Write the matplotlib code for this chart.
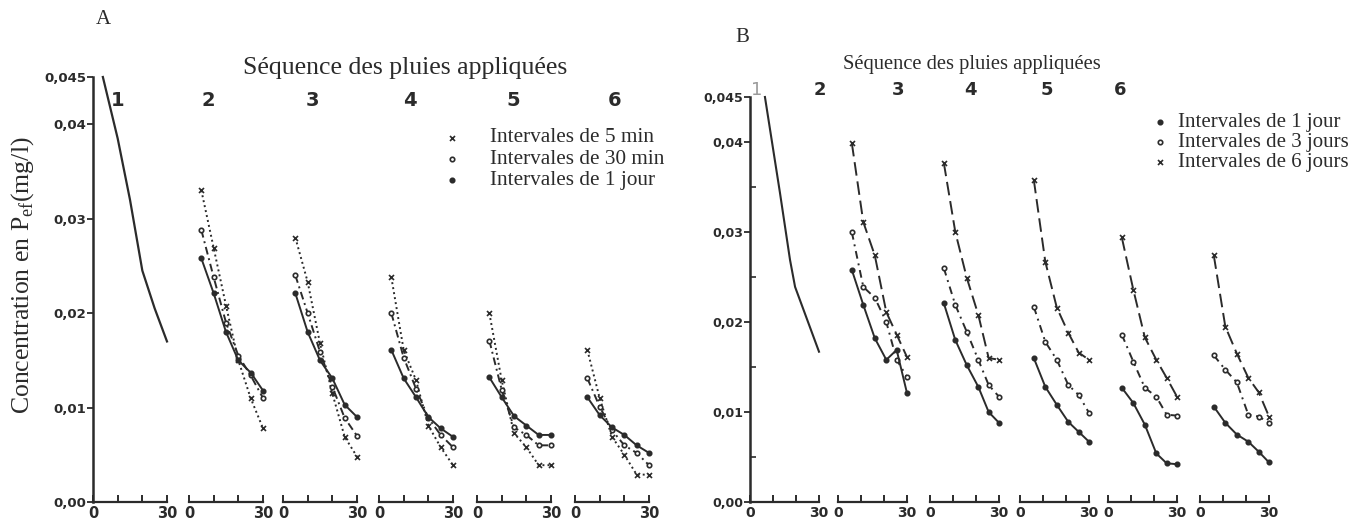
import matplotlib
matplotlib.use("Agg")
import matplotlib.pyplot as plt

# --- data ---------------------------------------------------------------
# Panel A : rain sequence 1 (single curve) and sequences 2-6 (three series)
a_seq1_x = [4, 10, 15, 20, 25, 30]
a_seq1_y = [0.045, 0.0385, 0.032, 0.0245, 0.0205, 0.017]

a_x = [5, 10, 15, 20, 25, 30]
a_5min = [
    [0.033, 0.0269, 0.0208, 0.015, 0.011, 0.0078],
    [0.028, 0.0233, 0.0168, 0.0115, 0.0069, 0.0048],
    [0.0238, 0.0161, 0.0129, 0.0081, 0.0058, 0.0039],
    [0.020, 0.0129, 0.0073, 0.0058, 0.0039, 0.0039],
    [0.0161, 0.011, 0.0069, 0.005, 0.0029, 0.0029],
]
a_30min = [
    [0.0288, 0.0238, 0.019, 0.0155, 0.0134, 0.011],
    [0.024, 0.020, 0.0159, 0.0122, 0.0089, 0.007],
    [0.020, 0.0153, 0.012, 0.0089, 0.0071, 0.0058],
    [0.0171, 0.0119, 0.0079, 0.0071, 0.006, 0.006],
    [0.0131, 0.0101, 0.0076, 0.006, 0.0052, 0.0039],
]
a_1jour = [
    [0.0258, 0.0221, 0.018, 0.015, 0.0137, 0.0118],
    [0.0221, 0.018, 0.015, 0.0131, 0.0103, 0.009],
    [0.0161, 0.0131, 0.0111, 0.009, 0.0078, 0.0069],
    [0.0132, 0.0111, 0.0091, 0.0081, 0.0071, 0.0071],
    [0.0111, 0.0092, 0.0079, 0.0071, 0.006, 0.0052],
]

# Panel B
b_seq1_x = [6.5, 13, 17.4, 19.6, 30]
b_seq1_y = [0.045, 0.0344, 0.0269, 0.0239, 0.0167]

b_x = [6, 11, 16, 21, 25.5, 30]
b_6jours = [
    [0.0399, 0.0311, 0.0274, 0.0211, 0.0186, 0.0161],
    [0.0377, 0.030, 0.0249, 0.0208, 0.016, 0.0158],
    [0.0358, 0.0267, 0.0216, 0.0188, 0.0166, 0.0158],
    [0.0294, 0.0236, 0.0183, 0.0158, 0.0138, 0.0117],
    [0.0274, 0.0195, 0.0165, 0.0138, 0.0122, 0.0095],
]
b_3jours = [
    [0.030, 0.0239, 0.0227, 0.020, 0.0158, 0.0139],
    [0.026, 0.0219, 0.0189, 0.0158, 0.013, 0.0117],
    [0.0217, 0.0178, 0.0158, 0.013, 0.0119, 0.0099],
    [0.0186, 0.0156, 0.0127, 0.0117, 0.0097, 0.0096],
    [0.0163, 0.0147, 0.0133, 0.0097, 0.0095, 0.0088],
]
b_1jour = [
    [0.0258, 0.0219, 0.0182, 0.0158, 0.0169, 0.0121],
    [0.0221, 0.018, 0.0152, 0.0128, 0.010, 0.0088],
    [0.016, 0.0128, 0.0108, 0.0089, 0.0078, 0.0067],
    [0.0127, 0.011, 0.0086, 0.0054, 0.0043, 0.0042],
    [0.0106, 0.0088, 0.0075, 0.0067, 0.0056, 0.0044],
]

seq_labels = ["1", "2", "3", "4", "5", "6"]
y_ticks = [0.0, 0.01, 0.02, 0.03, 0.04, 0.045]
y_ticklabels = ["0,00", "0,01", "0,02", "0,03", "0,04", "0,045"]
title = "Séquence des pluies appliquées"
a_legend = ["Intervales de 5 min", "Intervales de 30 min", "Intervales de 1 jour"]
b_legend = ["Intervales de 1 jour", "Intervales de 3 jours", "Intervales de 6 jours"]

# --- figure --------------------------------------------------------------
W, H = 1358, 526
INK = "#2b2b2b"
SERIF = "Liberation Serif"
fig = plt.figure(figsize=(W / 100, H / 100), dpi=100)


def px_axes(left, width, y0, y45):
    # y0 / y45: pixel rows of 0.00 and 0.045
    return fig.add_axes([left / W, 1 - y0 / H, width / W, (y0 - y45) / H])


def style_sub(ax, first, lab_size, minor=False):
    ax.set_xlim(0, 30)
    ax.set_ylim(0, 0.045)
    ax.patch.set_alpha(0)
    for s in ["top", "right"]:
        ax.spines[s].set_visible(False)
    ax.spines["bottom"].set_color(INK)
    ax.spines["bottom"].set_linewidth(1.6)
    ax.set_xticks([0, 10, 20, 30])
    ax.set_xticklabels(["0", "", "", "30"])
    ax.tick_params(axis="x", direction="in", length=5, width=1.4, color=INK,
                   labelsize=lab_size, pad=3, labelcolor=INK)
    for t in ax.get_xticklabels():
        t.set_fontweight("bold")
    if first:
        ax.spines["left"].set_color(INK)
        ax.spines["left"].set_linewidth(1.8)
        ax.set_yticks(y_ticks)
        ax.set_yticklabels(y_ticklabels)
        ax.tick_params(axis="y", direction="out", length=4, width=1.3, color=INK,
                       labelsize=lab_size - 1, pad=1, labelcolor=INK)
        for t in ax.get_yticklabels():
            t.set_fontweight("bold")
        if minor:
            ax.set_yticks([0.005, 0.015, 0.025, 0.035], minor=True)
            ax.tick_params(axis="y", which="minor", direction="in", length=4,
                           width=1.2, color=INK)
    else:
        ax.spines["left"].set_visible(False)
        ax.set_yticks([])


def draw_series(ax, x, y, ls, marker, mfc, ms):
    ax.plot(x, y, color=INK, lw=1.4, ls=ls, marker=marker, ms=ms,
            mfc=mfc, mec=INK, mew=1.2, clip_on=False)


# Panel A
a_lefts = [93, 189, 283, 379, 477, 575]
a_width = 74
for i, left in enumerate(a_lefts):
    ax = px_axes(left, a_width, 502, 77)
    style_sub(ax, i == 0, 10.5)
    if i == 0:
        ax.plot(a_seq1_x, a_seq1_y, color=INK, lw=1.6, clip_on=False)
    else:
        draw_series(ax, a_x, a_5min[i - 1], (0, (1, 1.6)), "x", INK, 3.6)
        draw_series(ax, a_x, a_30min[i - 1], (0, (4, 2, 1, 2)), "o", "white", 3.2)
        draw_series(ax, a_x, a_1jour[i - 1], "-", "o", INK, 3.2)

a_num_x = [118, 208, 312, 410, 513, 615]
for xp, lab in zip(a_num_x, seq_labels):
    fig.text(xp / W, 1 - 100 / H, lab, ha="center", va="center",
             fontsize=14, fontweight="bold", color=INK, family="DejaVu Sans")

fig.text(103 / W, 1 - 20 / H, "A", ha="center", va="center", fontsize=15,
         family=SERIF, color=INK)
fig.text(405 / W, 1 - 68 / H, title, ha="center", va="center", fontsize=18.5,
         family=SERIF, color=INK)
fig.text(23 / W, 1 - 275 / H, "Concentration en P$_{\\mathregular{ef}}$(mg/l)",
         rotation=90, ha="center", va="center", fontsize=18.5, family=SERIF,
         color=INK)

a_leg_y = [138, 159, 180]
a_leg_marker = [("x", INK, 3.6), ("o", "white", 3.2), ("o", INK, 3.2)]
for yy, txt, (m, fc, ms) in zip(a_leg_y, a_legend, a_leg_marker):
    fig.lines.append(plt.Line2D([452 / W], [1 - yy / H], transform=fig.transFigure,
                                marker=m, ms=ms, mfc=fc, mec=INK, mew=1.2, ls=""))
    fig.text(490 / W, 1 - yy / H, txt, ha="left", va="center", fontsize=15.3,
             family=SERIF, color=INK)

# Panel B
b_lefts = [750, 838, 930, 1020, 1108, 1200]
b_width = 69
for i, left in enumerate(b_lefts):
    ax = px_axes(left, b_width, 502, 97)
    style_sub(ax, i == 0, 10, minor=True)
    if i == 0:
        ax.plot(b_seq1_x, b_seq1_y, color=INK, lw=1.5, clip_on=False)
    else:
        draw_series(ax, b_x, b_6jours[i - 1], (0, (7, 3)), "x", INK, 3.6)
        draw_series(ax, b_x, b_3jours[i - 1], (0, (4, 2.5, 1, 2.5)), "o", "white", 3.2)
        draw_series(ax, b_x, b_1jour[i - 1], "-", "o", INK, 3.2)

b_num_x = [757, 820, 898, 970, 1047, 1120]
for j, (xp, lab) in enumerate(zip(b_num_x, seq_labels)):
    fig.text(xp / W, 1 - 90 / H, lab, ha="center", va="center", fontsize=13,
             fontweight="normal" if j == 0 else "bold",
             color="#9a9a9a" if j == 0 else INK, family="DejaVu Sans")

fig.text(742 / W, 1 - 37 / H, "B", ha="center", va="center", fontsize=15,
         family=SERIF, color=INK)
fig.text(972 / W, 1 - 65 / H, title, ha="center", va="center", fontsize=14.8,
         family=SERIF, color=INK)

b_leg_y = [122, 142, 162]
b_leg_marker = [("o", INK, 3.2), ("o", "white", 3.2), ("x", INK, 3.6)]
for yy, txt, (m, fc, ms) in zip(b_leg_y, b_legend, b_leg_marker):
    fig.lines.append(plt.Line2D([1160 / W], [1 - yy / H], transform=fig.transFigure,
                                marker=m, ms=ms, mfc=fc, mec=INK, mew=1.2, ls=""))
    fig.text(1178 / W, 1 - yy / H, txt, ha="left", va="center", fontsize=15,
             family=SERIF, color=INK)

fig.savefig("out.png", dpi=100)
